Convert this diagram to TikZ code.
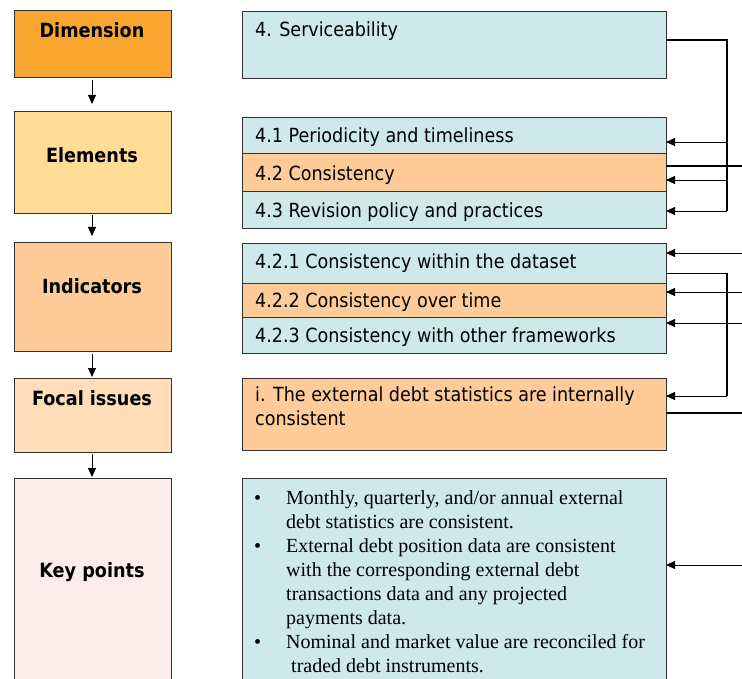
\documentclass[tikz,border=0pt]{standalone}
\usepackage{fontspec}
\setmainfont{DejaVu Sans Condensed}
\newfontfamily\tnr{Liberation Serif}
\usetikzlibrary{arrows.meta,fit}
\definecolor{cDim}{HTML}{F9A630}
\definecolor{cEle}{HTML}{FFDD97}
\definecolor{cInd}{HTML}{FFCC99}
\definecolor{cFoc}{HTML}{FFDDB9}
\definecolor{cKey}{HTML}{FDECEC}
\definecolor{cCyan}{HTML}{CFE8EA}
\definecolor{cOra}{HTML}{FFCB99}
\begin{document}
\begin{tikzpicture}[x=1pt,y=-1pt,
 box/.style={draw=black!80, line width=0.9pt, inner sep=0pt, outer sep=0pt},
 lab/.style={font=\bfseries\fontsize{19.6}{22}\selectfont, inner sep=0pt},
 txt/.style={font=\fontsize{19.5}{24}\selectfont, inner sep=0pt, anchor=west},
 conn/.style={line width=1.6pt},
 arr/.style={line width=0.9pt, -{Triangle[length=9pt,width=8pt]}},
]
\path[use as bounding box] (0,0) rectangle (742,679);
% left column
\node[box, fill=cDim, fit={(14,10) (171,77)}] (dim) {};
\node[box, fill=cEle, fit={(14,111) (171,213)}] (ele) {};
\node[box, fill=cInd, fit={(14,242) (171,351)}] (ind) {};
\node[box, fill=cFoc, fit={(14,378) (171,452)}] (foc) {};
\node[box, fill=cKey, fit={(14,478) (171,695)}] (key) {};
\node[lab] (tdim) at (92,30) {Dimension};
\node[lab] (tele) at (92,155) {Elements};
\node[lab] (tind) at (92,286) {Indicators};
\node[lab] (tfoc) at (92,398) {Focal issues};
\node[lab] (tkey) at (92,572) {Key points};
\draw[arr, shorten <=3pt, shorten >=7pt] (dim.south -| tdim) -- (ele.north -| tdim);
\draw[arr, shorten <=2pt, shorten >=6pt] (ele.south -| tdim) -- (ind.north -| tdim);
\draw[arr, shorten <=3pt, shorten >=1pt] (ind.south -| tdim) -- (foc.north -| tdim);
\draw[arr, shorten <=2pt, shorten >=1pt] (foc.south -| tdim) -- (key.north -| tdim);
% right column
\node[box, fill=cCyan, fit={(242,11) (666,78)}] (serv) {};
\node[box, fill=cCyan, fit={(242,117) (666,153)}] (e41) {};
\node[box, fill=cOra, fit={(242,153) (666,191)}] (e42) {};
\node[box, fill=cCyan, fit={(242,191) (666,228)}] (e43) {};
\node[box, fill=cCyan, fit={(242,243) (666,283)}] (i1) {};
\node[box, fill=cOra, fit={(242,283) (666,317)}] (i2) {};
\node[box, fill=cCyan, fit={(242,317) (666,353)}] (i3) {};
\node[box, fill=cOra, fit={(242,378) (666,450)}] (fi) {};
\node[box, fill=cCyan, fit={(242,478) (666,695)}] (kp) {};
\node[txt] (tserv) at (255,31) {4. Serviceability};
\node[txt] (t41) at (255,137) {4.1 Periodicity and timeliness};
\node[txt] (t42) at (255,175) {4.2 Consistency};
\node[txt] (t43) at (255,212) {4.3 Revision policy and practices};
\node[txt] (ti1) at (255,263) {4.2.1 Consistency within the dataset};
\node[txt] (ti2) at (255,302) {4.2.2 Consistency over time};
\node[txt] (ti3) at (255,337) {4.2.3 Consistency with other frameworks};
\node[txt, align=left, anchor=north west] (tfi) at (255,386) {i. The external debt statistics are internally\\consistent};
\node[inner sep=0pt, anchor=north west, font=\tnr\fontsize{20}{24}\selectfont] (tkp) at (254,487) {%
\begin{tabular}{@{}p{32pt}@{}l@{}}
\textbullet & Monthly, quarterly, and/or annual external\\
 & debt statistics are consistent.\\
\textbullet & External debt position data are consistent\\
 & with the corresponding external debt\\
 & transactions data and any projected\\
 & payments data.\\
\textbullet & Nominal and market value are reconciled for\\
 & \hspace{5pt}traded debt instruments.
\end{tabular}};
% connectors
\coordinate (vtop) at (727,40);
\coordinate (vbot) at (727,211);
\coordinate (a41) at (727,142);
\coordinate (a42) at (727,180);
\draw[conn] (vtop -| serv.east) -- (vtop) -- (vbot);
\draw[arr] (a41) -- (a41 -| e41.east);
\draw[arr] (a42) -- (a42 -| e42.east);
\draw[arr] (vbot) -- (vbot -| e43.east);
\coordinate (r42) at (742,166);
\draw[conn] (r42 -| e42.east) -- (r42);
\coordinate (ri1) at (742,253);
\coordinate (ri2) at (742,292);
\coordinate (ri3) at (742,323);
\draw[arr] (ri1) -- (ri1 -| i1.east);
\draw[arr] (ri2) -- (ri2 -| i2.east);
\draw[arr] (ri3) -- (ri3 -| i3.east);
\coordinate (w1) at (727,273);
\coordinate (w2) at (727,396);
\draw[line width=0.9pt] (w1 -| i1.east) -- (w1);
\draw[conn] (w1) -- (w2);
\draw[arr] (w2) -- (w2 -| fi.east);
\coordinate (rfi) at (742,413);
\draw[conn] (rfi -| fi.east) -- (rfi);
\coordinate (rkp) at (742,565);
\draw[arr] (rkp) -- (rkp -| kp.east);
\end{tikzpicture}
\end{document}
